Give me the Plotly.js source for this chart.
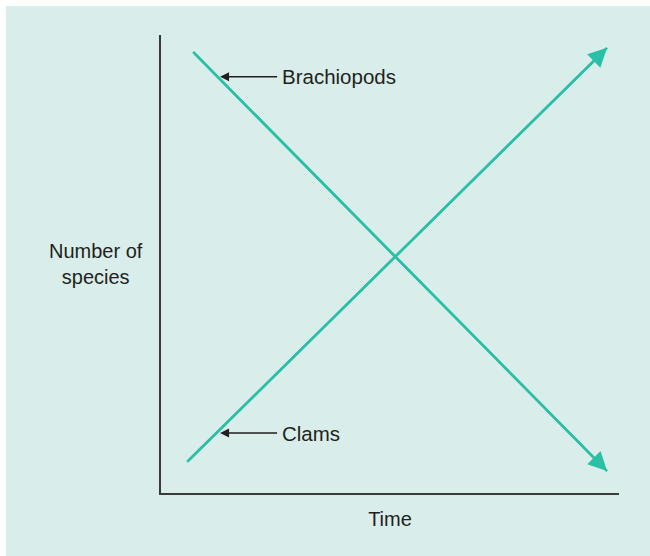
<!DOCTYPE html>
<html>
<head>
<meta charset="utf-8">
<script src="https://cdn.plot.ly/plotly-3.0.1.min.js"></script>
<style>
  html, body { margin: 0; padding: 0; background: #ffffff; }
  #chart { width: 650px; height: 556px; }
</style>
</head>
<body>
<div id="chart"></div>
<script>
// two schematic trends, axes run 0..10 with no ticks
var seriesNames = ["Brachiopods", "Clams"];
var brachX = [0.70, 9.74];
var brachY = [9.63, 0.48];
var clamX = [0.57, 9.74];
var clamY = [0.68, 9.72];

// where the label arrows touch each line
var labelX = [1.29, 1.29];
var labelY = [9.09, 1.31];

var teal = "#2bbfa6";
var ink = "#231f20";
var fontFam = "Liberation Sans, Arial, sans-serif";

var data = [
  {x: brachX, y: brachY, mode: "lines", name: seriesNames[0],
   line: {color: teal, width: 2.5}, hoverinfo: "skip"},
  {x: clamX, y: clamY, mode: "lines", name: seriesNames[1],
   line: {color: teal, width: 2.5}, hoverinfo: "skip"}
];

var annotations = [];

// arrowheads at the end of each line
[[brachX, brachY], [clamX, clamY]].forEach(function(s) {
  var n = s[0].length;
  annotations.push({
    x: s[0][n - 1], y: s[1][n - 1], xref: "x", yref: "y",
    ax: s[0][n - 2], ay: s[1][n - 2], axref: "x", ayref: "y",
    text: "", showarrow: true, arrowhead: 2, arrowsize: 1.5,
    arrowwidth: 2.5, arrowcolor: teal, standoff: 0
  });
});

// labels with black pointer arrows
seriesNames.forEach(function(name, i) {
  annotations.push({
    x: labelX[i], y: labelY[i], xref: "x", yref: "y",
    ax: 57, ay: 0, text: name, xanchor: "left", borderpad: 4,
    showarrow: true, arrowhead: 2, arrowsize: 1.2, arrowwidth: 1.5,
    arrowcolor: ink, font: {family: fontFam, size: 20.5, color: ink}
  });
});

// y axis title, horizontal on two lines
annotations.push({
  x: -0.142, y: 0.50, xref: "paper", yref: "paper",
  text: "Number of<br>species", showarrow: false, align: "center",
  xanchor: "center", yanchor: "middle",
  font: {family: fontFam, size: 20, color: ink}
});

var layout = {
  width: 650, height: 556,
  margin: {l: 161, r: 31, t: 35, b: 63},
  paper_bgcolor: "#ffffff",
  plot_bgcolor: "rgba(0,0,0,0)",
  showlegend: false,
  font: {family: fontFam, size: 20, color: ink},
  xaxis: {
    range: [0, 10], showgrid: false, zeroline: false, showticklabels: false,
    ticks: "", showline: true, linecolor: "#3a3a3a", linewidth: 2,
    fixedrange: true,
    title: {text: "Time", font: {family: fontFam, size: 20, color: ink}, standoff: 18}
  },
  yaxis: {
    range: [0, 10], showgrid: false, zeroline: false, showticklabels: false,
    ticks: "", showline: true, linecolor: "#3a3a3a", linewidth: 2,
    fixedrange: true
  },
  shapes: [{
    type: "rect", xref: "paper", yref: "paper", layer: "below",
    x0: -155 / 458, x1: 489 / 458, y0: -63 / 458, y1: 487 / 458,
    fillcolor: "#d9eeea", line: {width: 0}
  }],
  annotations: annotations
};

Plotly.newPlot("chart", data, layout, {displayModeBar: false, staticPlot: true});
</script>
</body>
</html>
